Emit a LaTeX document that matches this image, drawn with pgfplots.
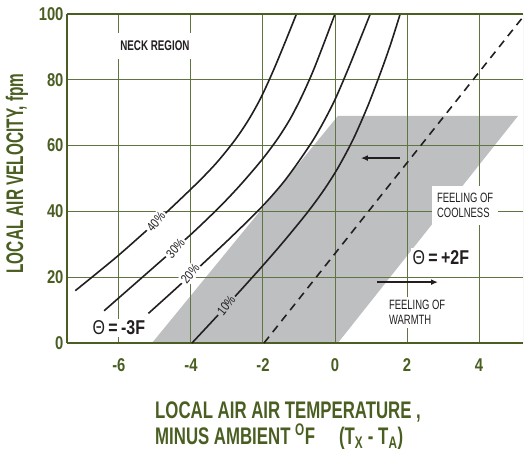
\documentclass[border=0pt]{standalone}
\usepackage{fontspec}
\setmainfont{Liberation Sans}
\newfontfamily\cond{Liberation Sans}[FakeStretch=0.8]
\newfontfamily\condl{Liberation Sans}[FakeStretch=0.7]
\newfontfamily\condy{Liberation Sans}[FakeStretch=0.64]
\usepackage{pgfplots}
\pgfplotsset{compat=1.18}
\usetikzlibrary{arrows.meta}
\definecolor{dgreen}{RGB}{74,94,34}
\definecolor{gridg}{RGB}{96,116,66}
\definecolor{shade}{RGB}{190,191,193}
\definecolor{ink}{RGB}{35,31,32}
\begin{document}
\begin{tikzpicture}
\begin{axis}[
  name=ax, at={(0,0)}, anchor=south west,
  scale only axis, width=456pt, height=329pt,
  xmin=-7.44, xmax=5.22, ymin=0, ymax=100,
  enlargelimits=false,
  set layers,
  axis x line*=bottom, axis y line*=left,
  axis line style={dgreen, line width=1.8pt},
  xtick={-6,-4,-2,0,2,4}, xticklabels={-6,-4,-2,0,2,4},
  ytick={0,20,40,60,80,100}, yticklabels={0,20,40,60,80,100},
  major tick length=0pt,
  grid=major, major grid style={gridg, line width=0.9pt},
  ticklabel style={font=\cond\bfseries\fontsize{18.5}{18.5}\selectfont, text=dgreen},
  xticklabel style={yshift=-12pt},
  xlabel={LOCAL AIR AIR TEMPERATURE ,\\MINUS AMBIENT \textsuperscript{O}F\quad (T\textsubscript{X} - T\textsubscript{A})},
  xlabel style={at={(axis description cs:0.193,-0.178)}, anchor=north west, align=left, inner sep=0pt, text=dgreen, font=\condl\bfseries\fontsize{24}{26}\selectfont},
  ylabel={LOCAL AIR VELOCITY, fpm},
  ylabel style={at={(axis description cs:-0.11,0.515)}, anchor=center, inner sep=0pt, text=dgreen, font=\condy\bfseries\fontsize{24}{26}\selectfont},
]
% comfort zone (shaded)
\addplot[fill=shade, draw=none, on layer=axis background] coordinates {(-5.08,0) (0.08,69) (5.08,69) (0.08,0) (-5.08,0)};
% 40%
\addplot[ink, line width=1.6pt, smooth] coordinates {(-7.21,15.9) (-6.08,26) (-5.21,34.4) (-4.66,39.9) (-3.81,48.8) (-3.27,55) (-2.77,61.8) (-2.39,68) (-2.05,74.7) (-1.72,82.6) (-1.40,91) (-1.07,100)};
% 30%
\addplot[ink, line width=1.6pt, smooth] coordinates {(-6.41,9.8) (-5.18,21.6) (-4.02,32.8) (-3.2,41.4) (-2.63,48) (-2.05,55.4) (-1.61,61.8) (-1.25,68) (-0.92,75) (-0.61,82.6) (-0.31,91) (0,100)};
% 20%
\addplot[ink, line width=1.6pt, smooth] coordinates {(-5.18,9) (-4.37,17) (-3.66,24.2) (-2.90,32) (-2.03,41.4) (-1.35,50) (-0.6,61.8) (-0.06,72.6) (0.34,82.6) (0.65,91) (0.98,100)};
% 10%
\addplot[ink, line width=1.6pt, smooth] coordinates {(-3.97,0) (-3.12,10) (-2.16,21.6) (-1.49,30) (-0.80,39.2) (-0.34,46) (0.07,53) (0.5,61.8) (0.91,72) (1.28,82.6) (1.55,91) (1.81,100)};
% dashed
\addplot[ink, line width=1.6pt, dash pattern=on 8pt off 6pt] coordinates {(-1.97,0) (1.03,41.4) (5.22,99.1)};
% curve labels
\node[rotate=50, fill=white, inner sep=2pt, text=ink, font=\cond\fontsize{13}{13}\selectfont] at (axis cs:-4.97,36.9) {40\%};
\node[rotate=50, fill=white, inner sep=2pt, text=ink, font=\cond\fontsize{13}{13}\selectfont] at (axis cs:-4.43,28.8) {30\%};
\node[rotate=50, fill=white, inner sep=2pt, text=ink, font=\cond\fontsize{13}{13}\selectfont] at (axis cs:-4.02,21.0) {20\%};
\node[rotate=52, fill=shade, inner sep=2pt, text=ink, font=\cond\fontsize{13}{13}\selectfont] at (axis cs:-3.02,11.4) {10\%};
% annotations
\node[fill=white, minimum width=82pt, minimum height=26pt, text=ink, font=\condl\bfseries\fontsize{14}{15}\selectfont] at (axis cs:-5.0,90.3) {NECK REGION};
\node[fill=white, anchor=west, align=left, inner xsep=5pt, inner ysep=7pt, text=ink, font=\condl\fontsize{13.5}{15.5}\selectfont] at (axis cs:2.69,41.9) {FEELING OF\\COOLNESS};
\node[fill=white, anchor=west, align=left, inner xsep=2pt, inner ysep=3pt, text=ink, font=\condl\fontsize{13.5}{15.5}\selectfont] at (axis cs:1.44,9.4) {FEELING OF\\WARMTH};
\node[fill=white, inner sep=2pt, text=ink, font=\cond\bfseries\fontsize{20}{20}\selectfont] at (axis cs:2.94,26.1) {{\mdseries Θ}\,=\,+2F};
\node[fill=white, inner sep=2pt, text=ink, font=\cond\bfseries\fontsize{20}{20}\selectfont] at (axis cs:-6.0,4.6) {{\mdseries Θ}\,=\,-3F};
\draw[ink, line width=1.5pt, -{Latex[length=7pt,width=6pt]}] (axis cs:1.17,18.5) -- (axis cs:2.86,18.5);
\draw[ink, line width=1.5pt, -{Latex[length=7pt,width=6pt]}] (axis cs:1.81,56.2) -- (axis cs:0.72,56.2);
\draw[black!25, line width=1pt] (axis cs:5.22,0) -- (axis cs:5.22,100);
\draw[dgreen, line width=2.6pt] (axis cs:-7.44,100) -- (axis cs:5.22,100);
\end{axis}
\pgfresetboundingbox
\path[use as bounding box] ([xshift=-67pt,yshift=-114pt]ax.south west) rectangle ([xshift=2pt,yshift=14pt]ax.north east);
\end{tikzpicture}
\end{document}
